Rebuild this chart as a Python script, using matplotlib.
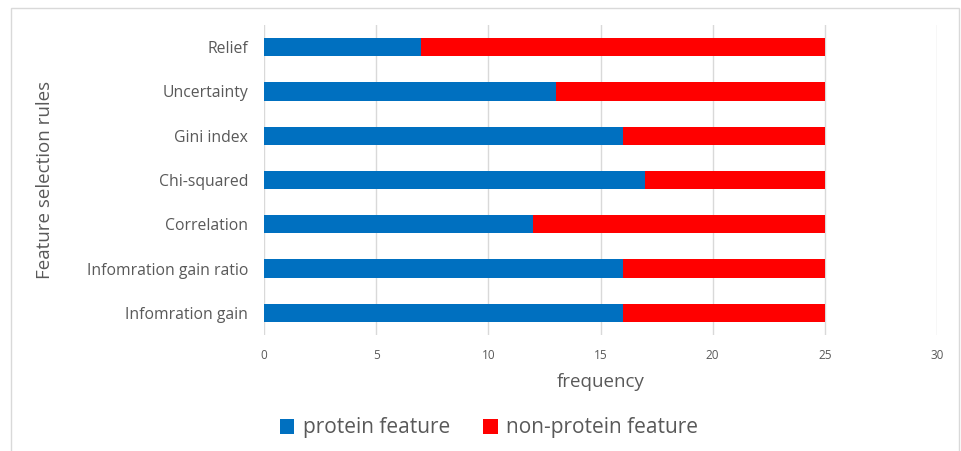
import matplotlib.pyplot as plt
from matplotlib.patches import Rectangle

plt.rcParams['font.family'] = ['Open Sans', 'DejaVu Sans']

rules = ['Infomration gain', 'Infomration gain ratio', 'Correlation',
         'Chi-squared', 'Gini index', 'Uncertainty', 'Relief']
protein = [16, 16, 12, 17, 16, 13, 7]
non_protein = [9, 9, 13, 8, 9, 12, 18]

blue = '#0070C0'
red = '#FF0000'
grey = '#595959'

fig = plt.figure(figsize=(9.61, 4.51), dpi=100)
ax = fig.add_axes([264 / 961, 1 - 335 / 451, (937 - 264) / 961, 310 / 451])

y = range(len(rules))
ax.barh(y, protein, height=0.41, color=blue, label='protein feature', zorder=3)
ax.barh(y, non_protein, left=protein, height=0.41, color=red,
        label='non-protein feature', zorder=3)

ax.set_xlim(0, 30)
ax.set_ylim(-0.5, len(rules) - 0.5)
ax.set_xticks(range(0, 31, 5))
ax.set_yticks(list(y))
ax.set_yticklabels(rules)
ax.grid(axis='x', color='#D9D9D9', linewidth=1, zorder=0)
for s in ax.spines.values():
    s.set_visible(False)
ax.tick_params(axis='both', length=0, colors=grey)
ax.tick_params(axis='y', labelsize=11.3, pad=11.5)
ax.tick_params(axis='x', labelsize=8.5, pad=10)

ax.set_xlabel('frequency', fontsize=13.5, color=grey, labelpad=8)
ax.set_ylabel('Feature selection rules', fontsize=13.5, color=grey)
ax.yaxis.set_label_coords((54 - 264) / 673, 0.5)

ax.legend(loc='center', bbox_to_anchor=((489 - 264) / 673, -93 / 310),
          ncol=2, frameon=False, fontsize=15, labelcolor=grey,
          handlelength=0.7, handleheight=0.7, handletextpad=0.4,
          columnspacing=1.6)

# outer chart frame
fig.patches.append(Rectangle((11 / 961, -0.01), (959 - 11) / 961, 1 - 8 / 451 + 0.01,
                             transform=fig.transFigure, fill=False,
                             edgecolor='#D9D9D9', linewidth=1))

fig.savefig('out.png', dpi=100)
